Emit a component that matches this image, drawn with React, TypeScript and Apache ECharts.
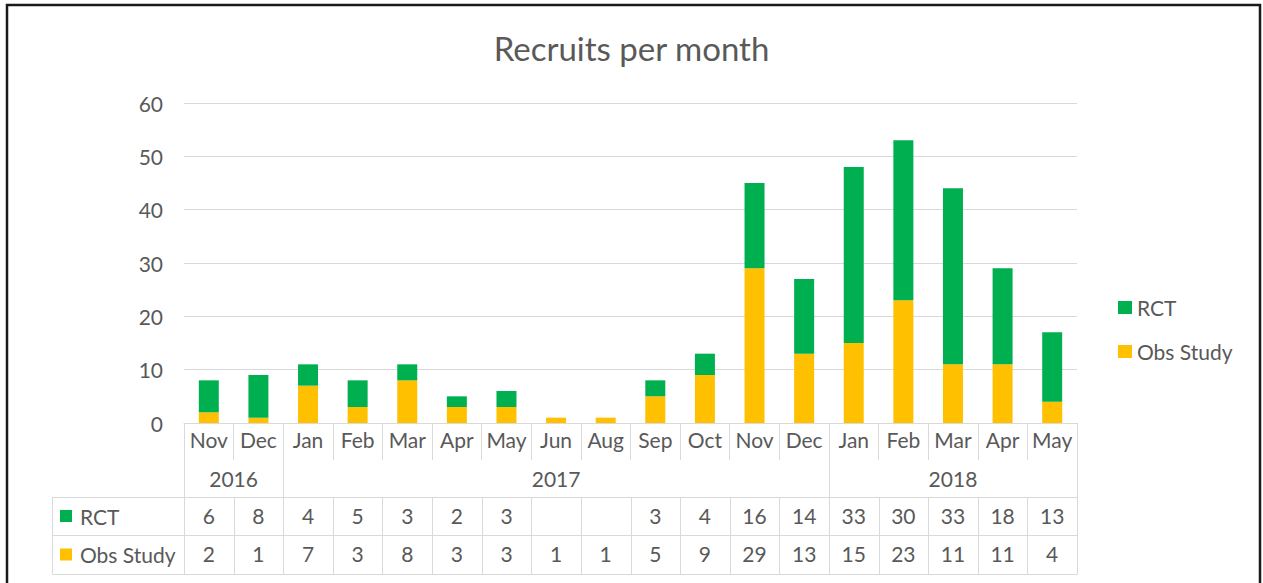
import React, { useEffect, useRef } from 'react';
import * as echarts from 'echarts';

const months = ['Nov', 'Dec', 'Jan', 'Feb', 'Mar', 'Apr', 'May', 'Jun', 'Aug', 'Sep', 'Oct', 'Nov', 'Dec', 'Jan', 'Feb', 'Mar', 'Apr', 'May'];
const years = ['2016', '2016', '2017', '2017', '2017', '2017', '2017', '2017', '2017', '2017', '2017', '2017', '2017', '2018', '2018', '2018', '2018', '2018'];
const rctValues: (number | null)[] = [6, 8, 4, 5, 3, 2, 3, null, null, 3, 4, 16, 14, 33, 30, 33, 18, 13];
const obsValues: (number | null)[] = [2, 1, 7, 3, 8, 3, 3, 1, 1, 5, 9, 29, 13, 15, 23, 11, 11, 4];
const RCT_NAME = 'RCT';
const OBS_NAME = 'Obs Study';
const TITLE = 'Recruits per month';
const Y_MIN = 0;
const Y_MAX = 60;
const Y_INTERVAL = 10;

const GREEN = '#00B050';
const ORANGE = '#FFC000';
const TEXT = '#595959';
const LINE = '#D9D9D9';
const FONT = 'Lato';
const FS = 21;

export default function App() {
  const ref = useRef<HTMLDivElement>(null);
  useEffect(() => {
    if (!ref.current) return;
    const chart = echarts.init(ref.current, undefined, { renderer: 'svg' });

    const L = 184, R = 1077, T = 103, B = 423;
    const n = months.length;
    const catW = (R - L) / n;
    const rowMonthBottom = 460;
    const rowYearBottom = 497;
    const rowRctBottom = 535;
    const rowObsBottom = 574;
    const tableLeft = 52;
    const px = (v: number) => Math.round(v) + 0.5;

    const graphics: any[] = [];
    const line = (x1: number, y1: number, x2: number, y2: number) =>
      graphics.push({ type: 'line', silent: true, shape: { x1, y1, x2, y2 }, style: { stroke: LINE, lineWidth: 1 } });

    // verticals
    for (let i = 0; i <= n; i++) {
      const x = px(L + i * catW);
      const yearBoundary = i === 0 || i === n || years[i] !== years[i - 1];
      if (yearBoundary) line(x, rowMonthBottom, x, rowYearBottom);
      line(x, rowYearBottom, x, rowObsBottom);
    }
    line(px(tableLeft), rowYearBottom, px(tableLeft), rowObsBottom);
    // horizontals
    [rowYearBottom, rowRctBottom, rowObsBottom].forEach((y) => line(px(tableLeft), px(y), px(R), px(y)));

    // year labels
    let start = 0;
    for (let i = 1; i <= n; i++) {
      if (i === n || years[i] !== years[start]) {
        const cx = L + ((start + i) / 2) * catW;
        graphics.push({
          type: 'text', silent: true, x: cx, y: (rowMonthBottom + rowYearBottom) / 2,
          style: { text: years[start], align: 'center', verticalAlign: 'middle', fill: TEXT, fontSize: FS, fontFamily: FONT },
        });
        start = i;
      }
    }

    // legend keys in table
    const keys = [
      { name: RCT_NAME, color: GREEN, cy: (rowYearBottom + rowRctBottom) / 2 },
      { name: OBS_NAME, color: ORANGE, cy: (rowRctBottom + rowObsBottom) / 2 },
    ];
    keys.forEach((k) => {
      graphics.push({ type: 'rect', silent: true, shape: { x: 60, y: k.cy - 6, width: 12, height: 12 }, style: { fill: k.color } });
      graphics.push({
        type: 'text', silent: true, x: 80, y: k.cy,
        style: { text: k.name, align: 'left', verticalAlign: 'middle', fill: TEXT, fontSize: FS, fontFamily: FONT },
      });
    });

    // outer border
    graphics.push({ type: 'rect', silent: true, shape: { x: 7, y: 5, width: 1253, height: 620 }, style: { fill: 'none', stroke: '#1a1a1a', lineWidth: 2.5 } });

    const fmt = (arr: (number | null)[]) => arr.map((v) => (v == null ? '' : String(v)));

    chart.setOption({
      animation: false,
      backgroundColor: '#ffffff',
      textStyle: { fontFamily: FONT },
      title: {
        text: TITLE, left: 'center', top: 31, padding: 0,
        textStyle: { color: TEXT, fontSize: 33, fontWeight: 'normal', fontFamily: FONT },
      },
      legend: {
        data: [RCT_NAME, OBS_NAME], orient: 'vertical', left: 1113, top: 292,
        itemWidth: 14, itemHeight: 13, itemGap: 23, icon: 'rect',
        textStyle: { color: TEXT, fontSize: FS, fontFamily: FONT },
      },
      grid: { left: L, right: 1263 - R, top: T, bottom: 583 - B, containLabel: false },
      xAxis: [
        {
          type: 'category', data: months, gridIndex: 0, position: 'bottom',
          axisLine: { show: true, lineStyle: { color: LINE, width: 1 } },
          axisTick: { show: true, interval: 0, length: rowMonthBottom - B, lineStyle: { color: LINE } },
          axisLabel: { interval: 0, margin: 6, color: TEXT, fontSize: FS, fontFamily: FONT },
        },
        {
          type: 'category', data: fmt(rctValues), gridIndex: 0, position: 'bottom', offset: rowYearBottom - B,
          axisLine: { show: false }, axisTick: { show: false },
          axisLabel: { interval: 0, margin: 8, color: TEXT, fontSize: FS, fontFamily: FONT },
        },
        {
          type: 'category', data: fmt(obsValues), gridIndex: 0, position: 'bottom', offset: rowRctBottom - B,
          axisLine: { show: false }, axisTick: { show: false },
          axisLabel: { interval: 0, margin: 8, color: TEXT, fontSize: FS, fontFamily: FONT },
        },
      ],
      yAxis: {
        type: 'value', min: Y_MIN, max: Y_MAX, interval: Y_INTERVAL,
        axisLine: { show: false }, axisTick: { show: false },
        axisLabel: { margin: 21, color: TEXT, fontSize: FS, fontFamily: FONT },
        splitLine: { lineStyle: { color: LINE, width: 1 } },
      },
      series: [
        { name: OBS_NAME, type: 'bar', stack: 'total', xAxisIndex: 0, barWidth: 20, data: obsValues, itemStyle: { color: ORANGE } },
        { name: RCT_NAME, type: 'bar', stack: 'total', xAxisIndex: 0, barWidth: 20, data: rctValues, itemStyle: { color: GREEN } },
      ],
      graphic: graphics,
    });

    return () => chart.dispose();
  }, []);

  return <div ref={ref} style={{ position: 'absolute', left: 0, top: 0, width: 1263, height: 583 }} />;
}
